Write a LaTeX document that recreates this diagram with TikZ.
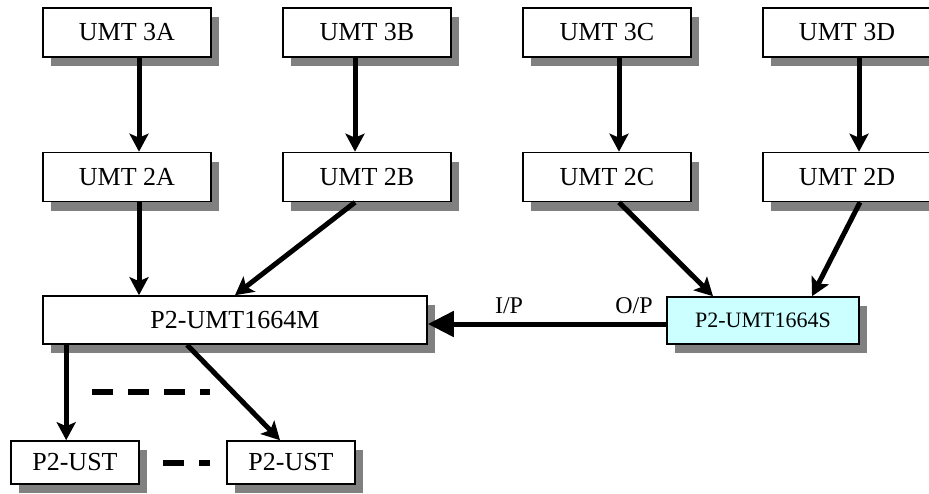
\documentclass[tikz,border=0pt]{standalone}
\usepackage{fontspec}
\setmainfont{Liberation Serif}
\usetikzlibrary{arrows.meta,shadows,calc}
\definecolor{shadowgray}{HTML}{808080}
\definecolor{lightcyan}{HTML}{CCFFFF}
\tikzset{
  box/.style={draw=black, line width=0.8pt, fill=white, minimum width=84pt, minimum height=24.5pt,
    inner sep=0pt, font=\fontsize{13}{15}\selectfont,
    drop shadow={shadow xshift=4pt, shadow yshift=-4.5pt, fill=shadowgray, opacity=1}},
  bigbox/.style={box, minimum width=192pt, minimum height=24pt},
  sbox/.style={box, fill=lightcyan, minimum width=96pt, minimum height=23.5pt, font=\fontsize{11}{13}\selectfont},
  ubox/.style={box, minimum width=64pt, minimum height=21.5pt},
  arr/.style={line width=2.5pt, -{Stealth[length=9pt,width=9.5pt,inset=2pt]}},
  bigarr/.style={line width=2.5pt, -{Triangle[length=13pt,width=12.5pt]}},
  dashline/.style={line width=2.7pt, dash pattern=on 10.5pt off 7.5pt},
  lbl/.style={font=\fontsize{12}{14}\selectfont, inner sep=0pt}
}
\begin{document}
\begin{tikzpicture}[x=0.5pt,y=-0.5pt]
\useasboundingbox (0,0) rectangle (929,493);
\clip (0,0) rectangle (929,493);
% top row
\node[box] (A3) at (127,32.5) {UMT 3A};
\node[box] (B3) at (367,32.5) {UMT 3B};
\node[box] (C3) at (607,32.5) {UMT 3C};
\node[box] (D3) at (847,32.5) {UMT 3D};
% second row
\node[box] (A2) at (127,177) {UMT 2A};
\node[box] (B2) at (367,177) {UMT 2B};
\node[box] (C2) at (607,177) {UMT 2C};
\node[box] (D2) at (847,177) {UMT 2D};
% main boxes
\node[bigbox] (M) at (235,320) {P2-UMT1664M};
\node[sbox] (S) at (763,320.5) {P2-UMT1664S};
% bottom
\node[ubox] (U1) at (75,462.5) {P2-UST};
\node[ubox] (U2) at (291,462.5) {P2-UST};
% vertical arrows
\draw[arr] ($(A3.south)+(12,0)$) -- ($(A2.north)+(12,0)$);
\draw[arr] ($(B3.south)+(-12,0)$) -- ($(B2.north)+(-12,0)$);
\draw[arr] ($(C3.south)+(12,0)$) -- ($(C2.north)+(12,0)$);
\draw[arr] ($(D3.south)+(12,0)$) -- ($(D2.north)+(12,0)$);
% to master
\coordinate (a2out) at ($(A2.south)+(12,0)$);
\draw[arr] (a2out) -- (a2out |- M.north);
\draw[arr] ($(B2.south)+(-12,0)$) -- (M.north);
% to slave
\draw[arr] ($(C2.south)+(12,0)$) -- ($(S.north)+(-50,0)$);
\draw[arr] ($(D2.south)+(13,0)$) -- ($(S.north)+(49,0)$);
% slave to master
\coordinate (sout) at ($(S.west)+(0,3.5)$);
\draw[bigarr] (sout) -- (sout -| M.east);
\node[lbl] (ip) at (509,306) {I/P};
\node[lbl] (op) at (634,306) {O/P};
% master to UST
\coordinate (m1) at ($(M.south west)+(24,0)$);
\draw[arr] (m1) -- (m1 |- U1.north);
\draw[arr] ($(M.south)+(-48,0)$) -- ($(U2.north)+(-11,0)$);
% dashes
\coordinate (d1s) at (92,392);
\coordinate (d1e) at (210,392);
\draw[dashline] (d1s) -- (d1e);
\coordinate (d2s) at (163,463);
\coordinate (d2e) at (210,463);
\draw[dashline] (d2s) -- (d2e);
\end{tikzpicture}
\end{document}
